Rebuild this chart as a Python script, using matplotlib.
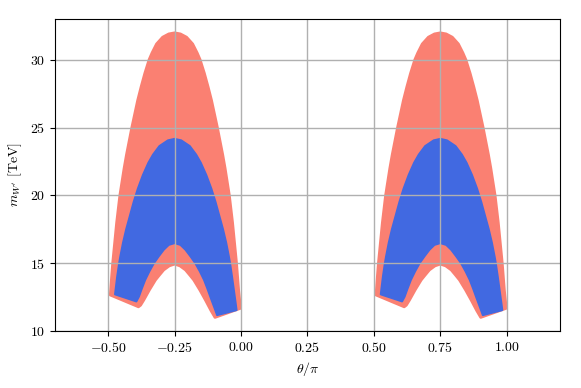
import matplotlib
matplotlib.use("Agg")
import matplotlib.pyplot as plt

plt.rcParams['mathtext.fontset'] = 'cm'
plt.rcParams['font.family'] = 'serif'
plt.rcParams['font.serif'] = ['cmr10', 'DejaVu Serif']

# one lobe in theta/pi, the second lobe repeats with period pi
lobe_shifts = [0.0, 1.0]

# salmon region: upper edge (left -> right), then lower edge (right -> left)
salmon_top_x = [-0.492, -0.487, -0.483, -0.478, -0.473, -0.468, -0.462, -0.456, -0.448, -0.440,
                -0.431, -0.421, -0.411, -0.400, -0.389, -0.376, -0.362, -0.346, -0.335, -0.318,
                -0.295, -0.272, -0.25,
                -0.228, -0.205, -0.182, -0.165, -0.154, -0.138, -0.124, -0.111, -0.100, -0.089,
                -0.079, -0.069, -0.060, -0.052, -0.044, -0.038, -0.032, -0.027, -0.022, -0.017,
                -0.013, -0.009, -0.002]
salmon_top_m = [12.65, 14.0, 15.0, 16.0, 17.0, 18.0, 19.0, 20.0, 21.0, 22.0,
                23.0, 24.0, 25.0, 26.0, 27.0, 28.0, 29.0, 30.0, 30.5, 31.16,
                31.66, 31.9, 31.98,
                31.9, 31.66, 31.16, 30.5, 30.0, 29.0, 28.0, 27.0, 26.0, 25.0,
                24.0, 23.0, 22.0, 21.0, 20.0, 19.0, 18.0, 17.0, 16.0, 15.0,
                14.0, 13.0, 11.67]
salmon_bot_x = [-0.098, -0.113, -0.134, -0.155, -0.178, -0.192, -0.209, -0.230, -0.25, -0.270,
                -0.291, -0.308, -0.322, -0.345, -0.366, -0.378, -0.386]
salmon_bot_m = [11.0, 11.5, 12.28, 13.02, 13.76, 14.1, 14.5, 14.8, 14.93, 14.8,
                14.5, 14.1, 13.76, 13.02, 12.28, 11.9, 11.78]

# blue region
blue_top_x = [-0.474, -0.466, -0.4585, -0.454, -0.444, -0.432, -0.418, -0.404, -0.388, -0.369,
              -0.3485, -0.331, -0.307, -0.275, -0.25,
              -0.225, -0.193, -0.169, -0.1515, -0.131, -0.112, -0.096, -0.082, -0.068, -0.056,
              -0.046, -0.0415, -0.034, -0.027, -0.020, -0.017]
blue_top_m = [12.7, 14.0, 15.0, 15.5, 16.5, 17.5, 18.5, 19.5, 20.5, 21.5,
              22.4, 23.0, 23.63, 24.05, 24.16,
              24.05, 23.63, 23.0, 22.4, 21.5, 20.5, 19.5, 18.5, 17.5, 16.5,
              15.5, 15.0, 14.0, 13.0, 12.0, 11.54]
blue_bot_x = [-0.09, -0.096, -0.1055, -0.1155, -0.126, -0.139, -0.155, -0.172, -0.190, -0.209,
              -0.228, -0.25, -0.272, -0.291, -0.310, -0.328, -0.345, -0.361, -0.374, -0.3845,
              -0.394]
blue_bot_m = [11.17, 11.5, 12.0, 12.53, 13.1, 13.76, 14.4, 15.0, 15.5, 15.99,
              16.35, 16.48, 16.35, 15.99, 15.5, 15.0, 14.4, 13.76, 13.1, 12.53,
              12.18]

xticks = [-0.5, -0.25, 0.0, 0.25, 0.5, 0.75, 1.0]
xtick_labels = [r'$-0.50$', r'$-0.25$', r'$0.00$', r'$0.25$', r'$0.50$', r'$0.75$', r'$1.00$']
yticks = [10, 15, 20, 25, 30]
ytick_labels = [r'$10$', r'$15$', r'$20$', r'$25$', r'$30$']

fig = plt.figure(figsize=(5.81, 3.88), dpi=100)
ax = fig.add_axes([0.0947, 0.147, 0.869, 0.804])

for s in lobe_shifts:
    xs = [x + s for x in salmon_top_x + salmon_bot_x]
    ms = salmon_top_m + salmon_bot_m
    ax.fill(xs, ms, facecolor='salmon', edgecolor='salmon', linewidth=2.0, joinstyle='round')
    xb = [x + s for x in blue_top_x + blue_bot_x]
    mb = blue_top_m + blue_bot_m
    ax.fill(xb, mb, facecolor='royalblue', edgecolor='royalblue', linewidth=1.5, joinstyle='round')

ax.set_xlim(-0.7, 1.2)
ax.set_ylim(10, 33)
ax.set_xticks(xticks)
ax.set_xticklabels(xtick_labels)
ax.set_yticks(yticks)
ax.set_yticklabels(ytick_labels)
ax.grid(True, color='#b0b0b0', linewidth=1.0)
ax.set_xlabel(r'$\theta/\pi$')
ax.set_ylabel(r"$m_{W'}$ [TeV]")

fig.savefig('out.png', dpi=100)
